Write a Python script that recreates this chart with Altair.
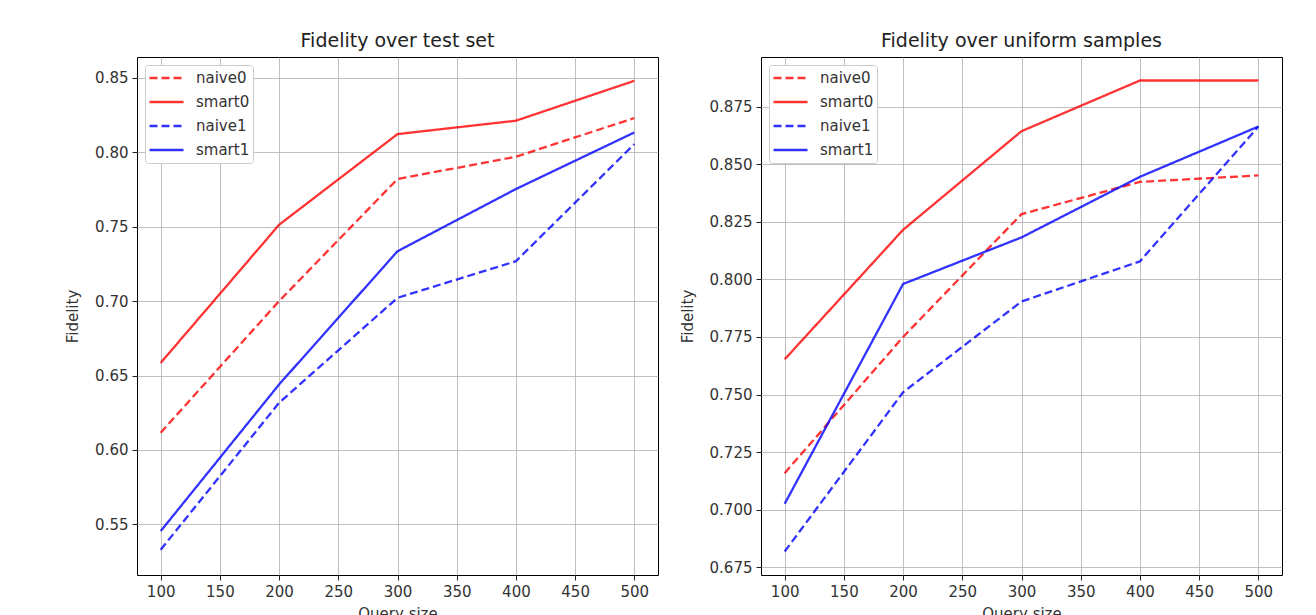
import altair as alt
import pandas as pd

query_sizes = [100, 200, 300, 400, 500]
series_names = ["naive0", "smart0", "naive1", "smart1"]

# Left panel: Fidelity over test set
test_naive0 = [0.6116, 0.700, 0.782, 0.797, 0.823]
test_smart0 = [0.6585, 0.7513, 0.8122, 0.8212, 0.848]
test_naive1 = [0.5330, 0.6317, 0.7022, 0.7268, 0.8055]
test_smart1 = [0.5455, 0.6440, 0.7335, 0.7753, 0.8133]

# Right panel: Fidelity over uniform samples
uni_naive0 = [0.7159, 0.775, 0.8283, 0.8423, 0.8451]
uni_smart0 = [0.7653, 0.8215, 0.8643, 0.8863, 0.8863]
uni_naive1 = [0.6819, 0.751, 0.7904, 0.8078, 0.8663]
uni_smart1 = [0.7026, 0.798, 0.8182, 0.8445, 0.8663]

left_ticks = [0.55, 0.60, 0.65, 0.70, 0.75, 0.80, 0.85]
right_ticks = [0.675, 0.700, 0.725, 0.750, 0.775, 0.800, 0.825, 0.850, 0.875]
x_ticks = [100, 150, 200, 250, 300, 350, 400, 450, 500]

FONT = "DejaVu Sans"


def make_df(vals):
    rows = []
    for name, ys in zip(series_names, vals):
        for q, v in zip(query_sizes, ys):
            rows.append({"series": name, "q": q, "fid": v})
    return pd.DataFrame(rows)


def panel(vals, title, ydomain, yticks, yfmt):
    df = make_df(vals)
    leg = alt.Legend(title=None, orient="none", legendX=8, legendY=8)
    return alt.Chart(df).mark_line(strokeWidth=2.3, opacity=0.8).encode(
        x=alt.X("q:Q", title="Query size",
                scale=alt.Scale(domain=[80, 520], nice=False, zero=False),
                axis=alt.Axis(values=x_ticks, format="d")),
        y=alt.Y("fid:Q", title="Fidelity",
                scale=alt.Scale(domain=ydomain, nice=False, zero=False),
                axis=alt.Axis(values=yticks, format=yfmt)),
        color=alt.Color("series:N",
                        scale=alt.Scale(domain=series_names,
                                        range=["red", "red", "blue", "blue"]),
                        legend=leg),
        strokeDash=alt.StrokeDash("series:N",
                                  scale=alt.Scale(domain=series_names,
                                                  range=[[8, 4], [1, 0], [8, 4], [1, 0]]),
                                  legend=leg),
        detail="series:N",
    ).properties(width=521, height=518,
                 title=alt.TitleParams(title, fontSize=19, font=FONT,
                                       fontWeight="normal", color="#222",
                                       offset=6))


left = panel([test_naive0, test_smart0, test_naive1, test_smart1],
             "Fidelity over test set", [0.516, 0.864], left_ticks, ".2f")
right = panel([uni_naive0, uni_smart0, uni_naive1, uni_smart1],
              "Fidelity over uniform samples", [0.6717, 0.8965], right_ticks, ".3f")

chart = alt.hconcat(left, right, spacing=20).resolve_legend(
    color="independent", strokeDash="independent"
).resolve_scale(y="independent").properties(
    padding={"left": 57, "top": 23, "right": 5, "bottom": 5}
).configure_view(
    stroke="black", strokeWidth=1
).configure_axis(
    domain=False,
    grid=True, gridColor="#b0b0b0", gridWidth=0.8,
    ticks=True, tickColor="#222", tickSize=5, tickWidth=1,
    labelFont=FONT, labelFontSize=15, labelColor="#333", labelPadding=4,
    titleFont=FONT, titleFontSize=15, titleFontWeight="normal",
    titleColor="#333",
).configure_axisY(titlePadding=14).configure_axisX(titlePadding=7).configure_legend(
    symbolType="stroke", symbolSize=1156, symbolStrokeWidth=2.3,
    labelFont=FONT, labelFontSize=15, labelColor="#333", labelOffset=11,
    fillColor="white", strokeColor="#cccccc", cornerRadius=3, padding=3,
    rowPadding=4, clipHeight=20, symbolOpacity=0.8,
)

chart.save("out.html", embed_options={"renderer": "svg", "actions": False})
